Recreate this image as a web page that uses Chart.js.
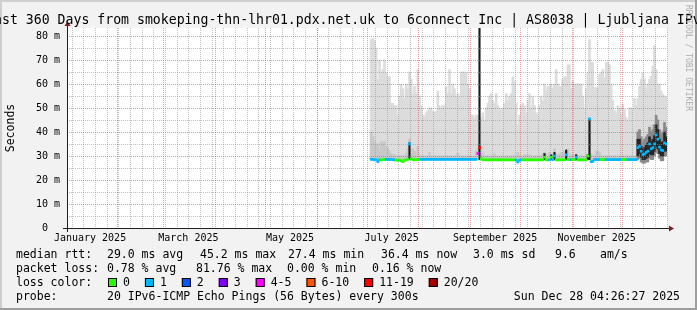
<!DOCTYPE html>
<html>
<head>
<meta charset="utf-8">
<script src="https://cdn.jsdelivr.net/npm/chart.js@4.4.1/dist/chart.umd.min.js"></script>
<style>
  html, body { margin: 0; padding: 0; background: #f2f2f2; }
  canvas { display: block; }
</style>
</head>
<body>
<canvas id="smokeChart" width="697" height="310"></canvas>
<script>
// one bucket per day, day 0 = left edge of the graph (360 days shown)
const firstDay = 182;

// top of the smoke (slowest ping), ms
const maxRtt = [
  78.6, 79, 78, 75, 62, 70, 64.7, 66, 70, 64.7,
  63, 63, 52, 52, 51, 51, 47, 55, 60, 58,
  54, 60, 58, 65, 62, 56, 59, 56, 66, 55,
  51, 47, 46.7, 48, 49, 50, 50, 48.5, 48.5, 48.5,
  57, 51, 50, 51, 51, 59, 56, 66, 56, 60,
  58, 55, 56, 55, 65, 65, 65, 65, 60, 58,
  47, 47, 46, 47, 47, 45, 46, 48, 45, 50,
  52, 55, 56, 53, 52, 56, 51, 50, 49, 50,
  52, 56, 53, 55, 56, 63, 61, 52, 43, 47,
  51, 52, 51, 48, 53, 56, 50, 55, 51, 48,
  47, 51, 55, 53, 60, 57, 59, 59, 60, 58,
  60, 66, 60, 59, 59, 62, 63, 63, 68, 68,
  58, 61, 60, 60, 60, 60, 60, 55, 50, 58,
  65, 78.5, 69, 69, 58.5, 58.5, 58.5, 64, 65, 66,
  62.6, 69, 69, 68, 60, 53, 49, 48, 51, 50,
  47.4, 51.5, 49.4, 46, 44.6, 50, 50, 49.4, 54, 51,
  54, 59, 62, 64.7, 62, 58, 60, 62, 63.3, 67.5,
  76, 66, 60, 60, 57, 55.7, 55, 55
];

// top of the denser (darker) part of the smoke, ms
const midRtt = [
  40, 38, 36, 35, 35, 33, 36, 35, 36, 34,
  33, 32, 31, 30.5, 30.5, 30, 30, 30, 30, 30,
  30, 31, 33, 37, 32, 33, 32, 31, 34, 30.5,
  30, 30, 30, 30, 30, 31.5, 30, 30, 30, 30,
  30, 30, 30, 30, 30, 30, 30, 30, 30, 30,
  30, 30, 31, 30, 30, 30, 30, 30, 30, 30,
  30, 30, 30, 32, 33, 33, 34, 31, 30, 30,
  30, 30, 30, 30, 31, 30, 30, 30, 30, 30,
  30, 30, 30, 30, 30, 30, 30, 30, 31.5, 30,
  30, 30, 30.5, 30.5, 30.5, 30.5, 30, 30, 30, 30,
  30, 30, 30, 31, 31.5, 31, 30, 31.5, 30, 31,
  33, 31, 30, 31, 31.5, 31.5, 32, 31, 33, 31,
  30, 30.5, 30, 31, 30, 30, 30, 30, 30, 30,
  30, 30.5, 31, 30, 30, 32, 32, 31.5, 30, 30,
  30, 30, 30, 30, 30, 30, 30, 30, 30, 30,
  30, 30, 30, 30, 30, 30, 30, 30, 30, 30,
  40, 41, 38, 36, 37, 37, 39, 42, 40, 43,
  43, 46, 44, 40, 39, 41, 43, 42
];

// median rtt, ms
const medianRtt = [
  28.6, 28.6, 28.4, 28.5, 27.6, 28.4, 28.3, 28.5, 28.5, 28.6,
  28.6, 28.5, 28.6, 28.5, 28.4, 28.3, 28.2, 28.3, 28.0, 27.6,
  28.2, 28.4, 28.6, 35.0, 28.8, 28.5, 28.4, 28.4, 28.5, 28.6,
  28.6, 28.6, 28.6, 28.6, 28.6, 28.6, 28.6, 28.6, 28.6, 28.6,
  28.6, 28.6, 28.6, 28.6, 28.6, 28.6, 28.6, 28.6, 28.6, 28.6,
  28.6, 28.6, 28.6, 28.6, 28.6, 28.6, 28.6, 28.6, 28.6, 28.6,
  28.6, 28.6, 28.6, 28.6, 31.0, 33.5, 28.8, 28.4, 28.4, 28.4,
  28.4, 28.4, 28.4, 28.4, 28.4, 28.4, 28.4, 28.4, 28.4, 28.4,
  28.4, 28.4, 28.4, 28.4, 28.4, 28.4, 28.4, 28.3, 27.5, 28.2,
  28.4, 28.4, 28.4, 28.4, 28.4, 28.4, 28.4, 28.4, 28.4, 28.4,
  28.4, 28.4, 28.4, 28.4, 29.5, 28.4, 28.4, 28.4, 29.5, 28.5,
  30.0, 28.4, 28.4, 28.4, 28.4, 28.4, 28.4, 30.5, 28.5, 28.5,
  28.5, 28.5, 28.5, 29.5, 28.4, 28.4, 28.4, 28.4, 28.4, 28.4,
  30.0, 45.5, 27.6, 27.8, 28.5, 28.5, 28.5, 28.5, 28.5, 28.5,
  28.5, 28.5, 28.5, 28.5, 28.5, 28.5, 28.5, 28.5, 28.5, 28.5,
  28.5, 28.5, 28.5, 28.5, 28.5, 28.5, 28.5, 28.5, 28.5, 28.5,
  33.5, 34, 32, 30.6, 30.8, 31.5, 32, 35, 33, 33.5,
  35, 38.8, 37, 33.7, 32.5, 32.3, 35.5, 35
];

// lost pings out of 20 for each bucket
const lossCount = [
  1, 1, 1, 1, 1, 1, 0, 0, 0, 1,
  1, 1, 1, 1, 1, 0, 0, 0, 0, 0,
  0, 0, 0, 1, 0, 0, 0, 0, 0, 0,
  1, 1, 1, 1, 1, 1, 1, 1, 1, 1,
  1, 1, 1, 1, 1, 1, 1, 1, 1, 1,
  1, 1, 1, 1, 1, 1, 1, 1, 1, 1,
  1, 1, 1, 1, 4, 12, 0, 0, 0, 0,
  0, 0, 0, 0, 0, 0, 0, 0, 0, 0,
  0, 0, 0, 0, 0, 0, 0, 1, 1, 1,
  1, 0, 0, 0, 0, 0, 0, 0, 0, 0,
  0, 0, 0, 0, 0, 0, 0, 1, 0, 1,
  1, 0, 0, 0, 0, 0, 0, 1, 0, 0,
  1, 0, 0, 1, 0, 0, 0, 0, 0, 0,
  0, 1, 1, 1, 1, 1, 1, 1, 0, 0,
  0, 1, 1, 1, 1, 1, 1, 1, 1, 1,
  1, 0, 0, 0, 1, 1, 1, 1, 1, 1,
  1, 1, 1, 1, 1, 1, 1, 1, 1, 1,
  1, 1, 1, 1, 1, 1, 1, 1
];

// short dense bursts (black smoke)
const spikeDays = [205, 247, 286, 290, 292, 299, 305, 312, 313];
const spikeLow = [28.6, 28.5, 28.4, 28.4, 28.4, 28.4, 28.4, 28.4, 28.5];
const spikeHigh = [35.5, 83.3, 31, 30.5, 31.5, 32.5, 30.5, 30.5, 45.5];

// last weeks: dense smoke band round the median
const tailFirstDay = 342;
const tailDarkLow = [30, 31, 29.5, 28.5, 28.5, 29, 29.5, 31, 30.5, 30.5, 32, 34, 33, 31, 30, 30, 32, 32];
const tailDarkHigh = [37, 37, 34, 33, 33.5, 34.5, 35.5, 38, 36, 37, 38.5, 43, 41, 37, 35.5, 36, 40, 38];
const tailDimLow = [28.5, 29, 27.5, 27, 27, 27.5, 27.5, 29, 28.5, 28.5, 30, 31.5, 31, 29, 28, 28, 30, 30];
const tailDimHigh = [40, 41, 38, 36, 37, 38, 39, 42, 40, 41, 43, 47, 45, 41, 39, 40, 44, 42];

const yTicks = [0, 10, 20, 30, 40, 50, 60, 70, 80];
const xTickLabels = ['January 2025', 'March 2025', 'May 2025', 'July 2025', 'September 2025', 'November 2025'];
const xTickMonths = [0, 2, 4, 6, 8, 10];

const lossLegendLabels = ['0', '1', '2', '3', '4-5', '6-10', '11-19', '20/20'];
const lossLegendColors = ['#26ff00', '#00b8ff', '#0059ff', '#7e00ff', '#ff00ff', '#ff5500', '#ff0000', '#a10000'];

const DAY = 86400000;
const graphEnd = Date.UTC(2025, 11, 28, 4, 26, 27);
const graphStart = graphEnd - 360 * DAY;
const toDay = t => (t - graphStart) / DAY;

function lossColor(n) {
  if (n <= 3) return lossLegendColors[n];
  if (n <= 5) return lossLegendColors[4];
  if (n <= 10) return lossLegendColors[5];
  if (n <= 19) return lossLegendColors[6];
  return lossLegendColors[7];
}

const monthStarts = [];
for (let m = 1; m < 12; m++) monthStarts.push(toDay(Date.UTC(2025, m, 1)));
const sundays = [];
for (let t = Date.UTC(2025, 0, 5); t < graphEnd; t += 7 * DAY) sundays.push(toDay(t));
const labelDays = xTickMonths.map(m => toDay(Date.UTC(2025, m, 16)));

const MONO = "'DejaVu Sans Mono', monospace";
const TITLE = 'Last 360 Days from smokeping-thn-lhr01.pdx.net.uk to 6connect Inc | AS8038 | Ljubljana IPv6';

function drawGrid(chart) {
  const { ctx, chartArea: a, scales: { x, y } } = chart;
  ctx.save();
  ctx.lineWidth = 1;
  ctx.setLineDash([1, 1]);
  ctx.strokeStyle = 'rgba(143,143,143,0.55)';
  ctx.beginPath();
  for (let v = 5; v < 83; v += 10) {
    const py = Math.round(y.getPixelForValue(v)) + 0.5;
    ctx.moveTo(a.left, py); ctx.lineTo(a.right, py);
  }
  sundays.forEach(d => {
    const px = Math.round(x.getPixelForValue(d)) + 0.5;
    ctx.moveTo(px, a.top); ctx.lineTo(px, a.bottom);
  });
  ctx.stroke();
  ctx.strokeStyle = 'rgba(222,79,79,0.6)';
  ctx.beginPath();
  for (let v = 10; v <= 80; v += 10) {
    const py = Math.round(y.getPixelForValue(v)) + 0.5;
    ctx.moveTo(a.left, py); ctx.lineTo(a.right, py);
  }
  monthStarts.forEach(d => {
    const px = Math.round(x.getPixelForValue(d)) + 0.5;
    ctx.moveTo(px, a.top); ctx.lineTo(px, a.bottom);
  });
  ctx.stroke();
  ctx.restore();
}

const rrdLook = {
  id: 'rrdLook',
  beforeDraw(chart) {
    const { ctx, chartArea: a } = chart;
    const W = chart.width, H = chart.height;
    ctx.save();
    ctx.fillStyle = '#f2f2f2';
    ctx.fillRect(0, 0, W, H);
    ctx.fillStyle = '#cfcfcf';
    ctx.fillRect(0, 0, W, 2);
    ctx.fillRect(0, 0, 2, H);
    ctx.fillStyle = '#9e9e9e';
    ctx.fillRect(0, H - 2, W, 2);
    ctx.fillRect(W - 2, 0, 2, H);
    ctx.fillStyle = '#ffffff';
    ctx.fillRect(a.left, a.top, a.right - a.left, a.bottom - a.top);
    ctx.restore();
  },
  beforeDatasetDraw(chart, args) {
    if (args.index === 0) drawGrid(chart);
  },
  afterDraw(chart) {
    const { ctx, chartArea: a } = chart;
    ctx.save();
    // axes + arrows
    ctx.strokeStyle = '#1f1f1f';
    ctx.lineWidth = 1;
    ctx.beginPath();
    ctx.moveTo(a.left - 4, a.bottom + 0.5); ctx.lineTo(a.right + 4, a.bottom + 0.5);
    ctx.moveTo(a.left + 0.5, a.bottom + 4); ctx.lineTo(a.left + 0.5, a.top - 4);
    ctx.stroke();
    ctx.fillStyle = '#801f1f';
    ctx.beginPath();
    ctx.moveTo(a.right + 2, a.bottom - 2.5); ctx.lineTo(a.right + 2, a.bottom + 3.5); ctx.lineTo(a.right + 7, a.bottom + 0.5);
    ctx.closePath(); ctx.fill();
    ctx.beginPath();
    ctx.moveTo(a.left - 2.5, a.top - 2); ctx.lineTo(a.left + 3.5, a.top - 2); ctx.lineTo(a.left + 0.5, a.top - 7);
    ctx.closePath(); ctx.fill();

    ctx.fillStyle = '#000';
    // title, wider than the image: "La" falls off the left edge
    ctx.font = `13.2px ${MONO}`;
    ctx.textAlign = 'left';
    ctx.textBaseline = 'alphabetic';
    const cw = ctx.measureText('M').width;
    ctx.fillText(TITLE, 2 - 2 * cw, 24);

    // vertical unit label
    ctx.save();
    ctx.font = `11.5px ${MONO}`;
    ctx.translate(11, (a.top + a.bottom) / 2);
    ctx.rotate(-Math.PI / 2);
    ctx.textAlign = 'center';
    ctx.textBaseline = 'middle';
    ctx.fillText('Seconds', 0, 0);
    ctx.restore();

    // watermark
    ctx.save();
    ctx.font = `8px ${MONO}`;
    ctx.fillStyle = '#adadad';
    ctx.translate(688, 5);
    ctx.rotate(Math.PI / 2);
    ctx.textAlign = 'left';
    ctx.textBaseline = 'middle';
    ctx.fillText('RRDTOOL / TOBI OETIKER', 0, 0);
    ctx.restore();

    // legend
    ctx.font = `11.5px ${MONO}`;
    ctx.textAlign = 'left';
    ctx.textBaseline = 'alphabetic';
    const rows = [
      [258, [[16, 'median rtt:'], [107, '29.0 ms avg'], [200, '45.2 ms max'], [288, '27.4 ms min'], [381, '36.4 ms now'], [473, '3.0 ms sd'], [555, '9.6'], [600, 'am/s']]],
      [272, [[16, 'packet loss:'], [107, '0.78 % avg'], [196, '81.76 % max'], [287, '0.00 % min'], [372, '0.16 % now']]],
      [286, [[16, 'loss color:']]],
      [300, [[16, 'probe:'], [107, '20 IPv6-ICMP Echo Pings (56 Bytes) every 300s']]]
    ];
    rows.forEach(([by, items]) => items.forEach(([bx, s]) => ctx.fillText(s, bx, by)));
    ctx.textAlign = 'right';
    ctx.fillText('Sun Dec 28 04:26:27 2025', 680, 300);
    ctx.textAlign = 'left';

    let lx = 108;
    lossLegendLabels.forEach((lab, i) => {
      ctx.fillStyle = lossLegendColors[i];
      ctx.fillRect(lx, 278, 9, 9);
      ctx.strokeStyle = '#000';
      ctx.strokeRect(lx + 0.5, 278.5, 8, 8);
      ctx.fillStyle = '#000';
      ctx.fillText(lab, lx + 15, 286);
      lx += 15 + ctx.measureText(lab).width + 15;
    });
    ctx.restore();
  }
};

const dayPoint = (start, i, lo, hi) => ({ x: start + i + 0.5, y: [lo, hi] });

const datasets = [
  {
    label: 'median',
    data: medianRtt.map((m, i) => dayPoint(firstDay, i, m - 0.42, m + 0.42)),
    backgroundColor: lossCount.map(lossColor),
    barThickness: 2
  },
  {
    label: 'spikes',
    data: spikeDays.map((d, i) => dayPoint(d, 0, spikeLow[i], spikeHigh[i])),
    backgroundColor: '#1a1a1a',
    barThickness: 1.5
  },
  {
    label: 'tail dark',
    data: tailDarkLow.map((lo, i) => dayPoint(tailFirstDay, i, lo, tailDarkHigh[i])),
    backgroundColor: '#262626',
    barThickness: 2
  },
  {
    label: 'tail dim',
    data: tailDimLow.map((lo, i) => dayPoint(tailFirstDay, i, lo, tailDimHigh[i])),
    backgroundColor: '#8a8a8a',
    barThickness: 2
  },
  {
    label: 'smoke mid',
    data: midRtt.map((v, i) => dayPoint(firstDay, i, medianRtt[i], v)),
    backgroundColor: '#c8c8c8',
    barThickness: 2
  },
  {
    label: 'smoke',
    data: maxRtt.map((v, i) => dayPoint(firstDay, i, medianRtt[i], v)),
    backgroundColor: '#dcdcdc',
    barThickness: 2
  }
];
datasets.forEach(d => { d.grouped = false; d.borderWidth = 0; });

new Chart(document.getElementById('smokeChart'), {
  type: 'bar',
  data: { datasets },
  options: {
    responsive: false,
    animation: false,
    events: [],
    layout: { padding: { left: 0, right: 30, top: 28, bottom: 62 } },
    plugins: { legend: { display: false }, tooltip: { enabled: false } },
    scales: {
      x: {
        type: 'linear', min: 0, max: 360, offset: false,
        grid: { display: false, drawTicks: false },
        border: { display: false },
        afterBuildTicks: s => { s.ticks = labelDays.map(v => ({ value: v })); },
        afterFit: s => { s.height = 20; },
        ticks: {
          autoSkip: false, maxRotation: 0, padding: 4, color: '#000',
          font: { family: MONO, size: 10 },
          callback: (v, i) => xTickLabels[i]
        }
      },
      y: {
        min: 0, max: 200 / 2.4,
        grid: { display: false, drawTicks: false },
        border: { display: false },
        afterBuildTicks: s => { s.ticks = yTicks.map(v => ({ value: v })); },
        afterFit: s => { s.width = 67; },
        ticks: {
          padding: 7, color: '#000',
          font: { family: MONO, size: 10 },
          callback: v => v === 0 ? '0  ' : v + ' m'
        }
      }
    }
  },
  plugins: [rrdLook]
});
</script>
</body>
</html>
